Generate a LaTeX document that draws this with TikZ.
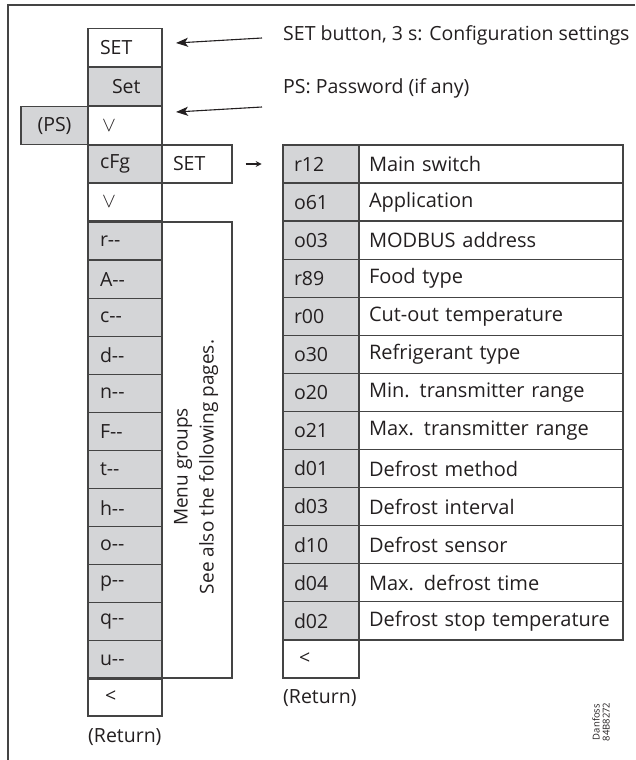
\documentclass[tikz,border=0pt]{standalone}
\usepackage{fontspec}
\setmainfont{Open Sans}
\usetikzlibrary{arrows.meta}
\definecolor{ln}{HTML}{444444}
\definecolor{gr}{HTML}{D4D5D7}
\definecolor{tx}{HTML}{231F20}
\newcommand{\myvee}{{\fontsize{20}{20}\selectfont$\vee$}}
\begin{document}
\begin{tikzpicture}[x=1pt,y=-1pt,
  every node/.style={font=\fontsize{19.5}{23}\selectfont, text=tx},
  cell/.style={draw=ln, line width=1.3pt, minimum width=74pt, minimum height=38.07pt,
     text width=50pt, align=left, inner xsep=12pt, inner ysep=0pt},
  gcell/.style={cell, fill=gr},
  dcell/.style={draw=ln, line width=1.3pt, minimum width=264pt, minimum height=38.07pt,
     text width=244pt, align=left, inner xsep=10pt, inner ysep=0pt, font=\fontsize{20}{23}\selectfont},
  lbl/.style={anchor=west, inner sep=0pt},
  arr/.style={draw=tx, line width=1.1pt, -{Stealth[length=12pt,width=9pt,inset=3pt]}}
]
\useasboundingbox (0,0) rectangle (635,760);
% outer frame
\draw[ln, line width=1.5pt] (8,760) -- (8,5) -- (635,5);

% left column
\node[cell] (set) at (125,47.5) {SET};
\node[gcell] (set2) at (125,86.8) {\hspace*{12pt}Set};
\node[cell] (dn1) at (125,125.8) {\hspace*{2pt}\myvee};
\node[gcell, minimum width=67pt, text width=47pt, inner xsep=10pt, align=center] (ps) at (54.5,125.8) {(PS)};
\node[gcell] (cfg) at (125,164) {cFg};
\node[cell] (setb) at (197,164) [minimum width=70pt, text width=48pt, inner xsep=11pt] {SET};
\node[cell] (dn2) at (125,202.1) {\hspace*{2pt}\myvee};
\foreach \t [count=\i from 0] in {r,A,c,d,n,F,t,h,o,p,q,u}
  \node[gcell] (g\i) at (125,241.1+38.07*\i) {\t-{}-};
\node[cell] (ret1) at (125,697) {\hspace*{5pt}<};
\node[lbl] (retl1) at (88,737) {(Return)};

% menu groups box
\node[draw=ln, line width=1.3pt, minimum width=70pt, minimum height=456pt, inner sep=0pt] (menu) at (197,450) {};
\node[rotate=90, align=center, inner sep=0pt, font=\fontsize{19}{26}\selectfont] (menutxt) at (196,467) {Menu groups\\See also the following pages.};

% annotations
\node[lbl] (ann1) at (283,35) {SET button, 3 s: Configuration settings};
\node[lbl] (ann2) at (283,88) {PS: Password (if any)};
\coordinate (a1t) at (262,38);
\coordinate (a1h) at (176,43);
\coordinate (a2t) at (262,107);
\coordinate (a2h) at (176,112);
\draw[arr] (a1t) -- (a1h);
\draw[arr] (a2t) -- (a2h);

% right arrow
\draw[draw=tx, line width=1.2pt, -{Stealth[length=6pt,width=6pt]}] (setb.east) ++(13,0) coordinate (ra1) -- ++(16,0) coordinate (ra2);

% right table
\foreach \c/\d [count=\i from 0] in {r12/Main switch,o61/Application,o03/MODBUS address,r89/Food type,r00/Cut-out temperature,o30/Refrigerant type,o20/Min. transmitter range,o21/Max. transmitter range,d01/Defrost method,d03/Defrost interval,d10/Defrost sensor,d04/Max. defrost time,d02/Defrost stop temperature}{
  \node[gcell, minimum width=76pt, text width=54pt, inner xsep=11pt] (c\i) at (321,164+38.07*\i) {\c};
  \node[dcell] (d\i) at (491,164+38.07*\i) {\d};
}
\node[cell, minimum width=76pt, text width=54pt, inner xsep=11pt] (ret2) at (321,659) {\hspace*{5pt}<};
\node[lbl] (retl2) at (283,698) {(Return)};

% id
\node[rotate=90, align=center, inner sep=0pt, font=\fontsize{9.5}{10}\selectfont] (id) at (601,722) {Danfoss\\84B8272};
\end{tikzpicture}
\end{document}
